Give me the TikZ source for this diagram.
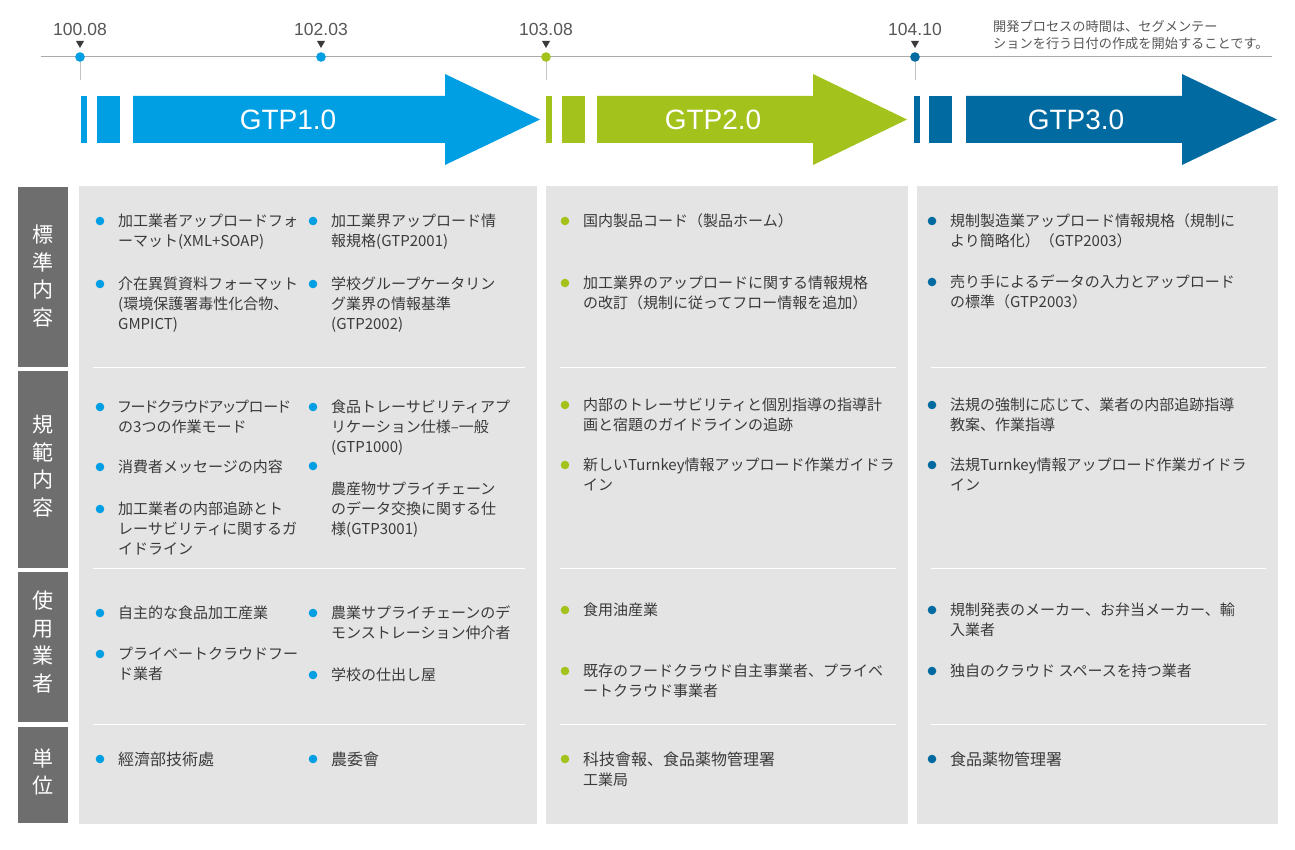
\documentclass[tikz,border=0pt]{standalone}
\usepackage{fontspec}
\newfontfamily\jp{Noto Sans CJK JP}
\newfontfamily\jpp[RawFeature=+palt]{Noto Sans CJK JP}
\newfontfamily\arial{Liberation Sans}
\definecolor{cblue}{HTML}{009FE3}
\definecolor{cgreen}{HTML}{A3C21C}
\definecolor{cdark}{HTML}{006AA1}
\definecolor{panelgray}{HTML}{E4E4E4}
\definecolor{labgray}{HTML}{6E6E6E}
\definecolor{txt}{HTML}{3A3A3A}
\definecolor{tline}{HTML}{AAAAAA}
\newcommand{\bitem}[5]{%
  \fill[#4] (#2-18,#3-1) circle (4.3);
  \node[itemtext, anchor=north west] (#1) at (#2,#3-8.5) {#5};}
\begin{document}
\begin{tikzpicture}[x=1pt,y=-1pt,
  itemtext/.style={inner sep=0pt, align=left, text=txt, font=\jp\fontsize{15}{20}\selectfont},
  rowlabel/.style={inner sep=0pt, align=center, text=white, font=\jp\fontsize{21}{27.5}\selectfont},
  datelabel/.style={inner sep=0pt, text=txt!85, font=\arial\fontsize{17.5}{20}\selectfont},
  gtplabel/.style={inner sep=0pt, text=white, font=\arial\fontsize{28}{30}\selectfont},
  notetext/.style={inner sep=0pt, align=left, text=txt!85, font=\jp\fontsize{13.2}{17}\selectfont},
  stem/.style={draw=tline!70, line width=0.8pt},
  sepline/.style={draw=white, line width=1.5pt}]
\useasboundingbox (0,0) rectangle (1295,850);
\fill[white] (0,0) rectangle (1295,850);

% timeline
\draw[tline, line width=1pt] (41,57) -- (1272,57);
\draw[stem] (80,57) -- (80,80);
\draw[stem] (546,57) -- (546,80);
\draw[stem] (915,57) -- (915,80);
\foreach \xx/\cc in {80/cblue,321/cblue,546/cgreen,915/cdark}{
  \fill[\cc] (\xx,57) circle (4.8);
  \fill[txt] (\xx-4,41) -- (\xx+4,41) -- (\xx,48) -- cycle;}
\node[datelabel] (d1) at (80,29) {100.08};
\node[datelabel] (d2) at (321,29) {102.03};
\node[datelabel] (d3) at (546,29) {103.08};
\node[datelabel] (d4) at (915,29) {104.10};
\node[notetext, anchor=north west] (note) at (993,20) {開発プロセスの時間は、セグメンテー\\ションを行う日付の作成を開始することです。};

% arrows
\fill[cblue] (81,96) rectangle (87,143);
\fill[cblue] (97,96) rectangle (120,143);
\fill[cblue] (133,96) -- (445,96) -- (445,74) -- (540,119.5) -- (445,165) -- (445,143) -- (133,143) -- cycle;
\node[gtplabel] (g1) at (288,120) {GTP1.0};
\fill[cgreen] (546,96) rectangle (552,143);
\fill[cgreen] (562,96) rectangle (585,143);
\fill[cgreen] (597,96) -- (813,96) -- (813,74) -- (907,119.5) -- (813,165) -- (813,143) -- (597,143) -- cycle;
\node[gtplabel] (g2) at (713,120) {GTP2.0};
\fill[cdark] (914,96) rectangle (920,143);
\fill[cdark] (929,96) rectangle (952,143);
\fill[cdark] (966,96) -- (1182,96) -- (1182,74) -- (1277,119.5) -- (1182,165) -- (1182,143) -- (966,143) -- cycle;
\node[gtplabel] (g3) at (1076,120) {GTP3.0};

% label column
\fill[labgray] (18,187) rectangle (68,367);
\fill[labgray] (18,371) rectangle (68,568);
\fill[labgray] (18,572) rectangle (68,722);
\fill[labgray] (18,727) rectangle (68,823);
\node[rowlabel] (l1) at (43,276) {標\\準\\内\\容};
\node[rowlabel] (l2) at (43,466) {規\\範\\内\\容};
\node[rowlabel] (l3) at (43,642) {使\\用\\業\\者};
\node[rowlabel] (l4) at (43,772) {単\\位};

% panels
\foreach \xa/\xb in {79/537,546/908,917/1278}{
  \fill[panelgray] (\xa,186) rectangle (\xb,824);
  \foreach \yy in {367.5,568.5,724.5}{\draw[sepline] (\xa+14,\yy) -- (\xb-12,\yy);}}

% GTP1 column
\bitem{a11}{118}{222}{cblue}{加工業者アップロードフォ\\ーマット(XML+SOAP)}
\bitem{a12}{118}{285}{cblue}{介在異質資料フォーマット\\(環境保護署毒性化合物、\\GMPICT)}
\bitem{b11}{331}{222}{cblue}{加工業界アップロード情\\報規格(GTP2001)}
\bitem{b12}{331}{285}{cblue}{学校グループケータリン\\グ業界の情報基準\\(GTP2002)}
\bitem{a21}{118}{408}{cblue}{{\jpp フードクラウドアップロード}\\の3つの作業モード}
\bitem{a22}{118}{468}{cblue}{消費者メッセージの内容}
\bitem{a23}{118}{510}{cblue}{加工業者の内部追跡とト\\レーサビリティに関するガ\\イドライン}
\bitem{b21}{331}{408}{cblue}{食品トレーサビリティアプ\\リケーション仕様–一般\\(GTP1000)}
\fill[cblue] (313,466) circle (4.3);
\node[itemtext, anchor=north west] (b22) at (331,481.5) {農産物サプライチェーン\\のデータ交換に関する仕\\様(GTP3001)};
\bitem{a31}{118}{614}{cblue}{自主的な食品加工産業}
\bitem{a32}{118}{655}{cblue}{プライベートクラウドフー\\ド業者}
\bitem{b31}{331}{614}{cblue}{農業サプライチェーンのデ\\モンストレーション仲介者}
\bitem{b32}{331}{676}{cblue}{学校の仕出し屋}
\bitem{a41}{118}{760}{cblue}{\fontsize{16}{20}\selectfont 經濟部技術處}
\bitem{b41}{331}{760}{cblue}{\fontsize{16}{20}\selectfont 農委會}

% GTP2 column
\bitem{c11}{583}{222}{cgreen}{国内製品コード（製品ホーム）}
\bitem{c12}{583}{284}{cgreen}{加工業界のアップロードに関する情報規格\\の改訂（規制に従ってフロー情報を追加）}
\bitem{c21}{583}{406}{cgreen}{内部のトレーサビリティと個別指導の指導計\\画と宿題のガイドラインの追跡}
\bitem{c22}{583}{466}{cgreen}{新しいTurnkey情報アップロード作業ガイドラ\\イン}
\bitem{c31}{583}{611}{cgreen}{食用油産業}
\bitem{c32}{583}{672}{cgreen}{既存のフードクラウド自主事業者、プライベ\\ートクラウド事業者}
\bitem{c41}{583}{760}{cgreen}{\fontsize{16}{20}\selectfont 科技會報、食品薬物管理署\\工業局}

% GTP3 column
\bitem{e11}{950}{222}{cdark}{規制製造業アップロード情報規格（規制に\\より簡略化）（GTP2003）}
\bitem{e12}{950}{283}{cdark}{売り手によるデータの入力とアップロード\\の標準（GTP2003）}
\bitem{e21}{950}{406}{cdark}{法規の強制に応じて、業者の内部追跡指導\\教案、作業指導}
\bitem{e22}{950}{466}{cdark}{法規Turnkey情報アップロード作業ガイドラ\\イン}
\bitem{e31}{950}{611}{cdark}{規制発表のメーカー、お弁当メーカー、輸\\入業者}
\bitem{e32}{950}{672}{cdark}{独自のクラウド スペースを持つ業者}
\bitem{e41}{950}{760}{cdark}{\fontsize{16}{20}\selectfont 食品薬物管理署}
\end{tikzpicture}
\end{document}
